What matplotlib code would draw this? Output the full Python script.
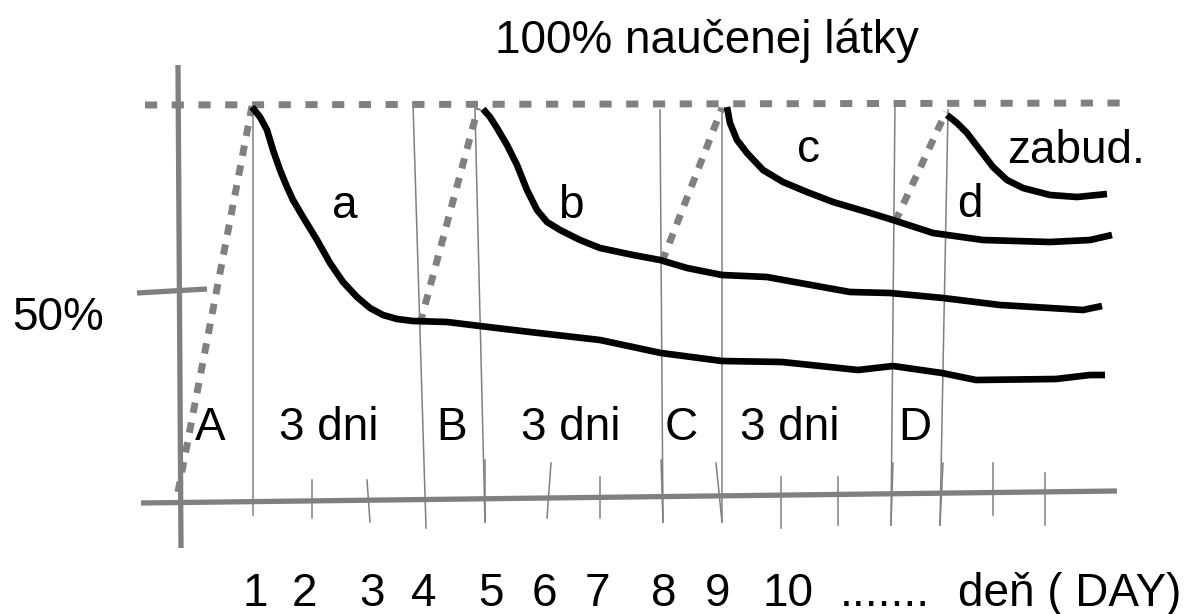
import matplotlib.pyplot as plt

plt.rcParams['font.family'] = ['Liberation Sans', 'DejaVu Sans']

# drawing is laid out in picture units (x to the right, y downwards)
W, H = 1193, 614
GRAY = '#808080'

# forgetting curves a, b, c, d
curve_a_x = [252, 260, 267, 273, 280, 287, 293, 303, 317, 330, 343, 357, 370, 383, 397, 413, 447,
             480, 530, 600, 661, 722, 782, 858, 893, 942, 976, 1056, 1090, 1105]
curve_a_y = [107, 117, 130, 150, 170, 187, 200, 217, 240, 263, 282, 297, 308, 315, 319, 321, 322,
             326, 332, 340, 353, 361, 362, 370, 366, 373, 380, 379, 375, 375]
curve_b_x = [483, 490, 497, 507, 517, 527, 537, 547, 560, 580, 600, 633, 660, 687, 722, 767, 800,
             850, 890, 943, 1000, 1083, 1102]
curve_b_y = [109, 117, 128, 145, 165, 190, 210, 222, 230, 240, 248, 255, 260, 268, 275, 277, 283,
             292, 293, 298, 305, 310, 306]
curve_c_x = [727, 730, 737, 747, 763, 783, 807, 833, 867, 893, 933, 983, 1050, 1090, 1112]
curve_c_y = [107, 123, 140, 153, 170, 182, 192, 202, 212, 220, 233, 240, 242, 240, 235]
curve_d_x = [947, 957, 967, 980, 993, 1007, 1023, 1050, 1077, 1107]
curve_d_y = [115, 123, 133, 150, 167, 180, 188, 195, 197, 194]

# learning ramps (dashed): start and end points
ramp_x = [(178, 252), (420, 478), (662, 722), (895, 946)]
ramp_y = [(492, 106), (324, 108), (262, 108), (222, 112)]

# thin vertical lines at repetition days
vline_x = [(253, 253), (413, 426), (475, 485), (660, 663), (722, 722), (895, 891), (948, 940)]
vline_y = [(108, 515), (103, 528), (110, 522), (110, 522), (108, 522), (103, 525), (110, 525)]

# short day ticks on the x axis
tick_x = [(312, 312), (367, 370), (485, 485), (551, 547), (600, 600), (661, 663), (716, 722),
          (781, 781), (838, 838), (893, 891), (943, 940), (993, 993), (1045, 1045)]
tick_y = [(480, 518), (480, 522), (460, 522), (463, 518), (477, 518), (460, 522), (463, 522),
          (477, 528), (477, 525), (463, 525), (463, 525), (463, 515), (473, 525)]

# labels
day_labels = ['1', '2', '3', '4', '5', '6', '7', '8', '9', '10', '.......', 'deň ( DAY)']
day_label_x = [242, 292, 359, 411, 478, 532, 585, 651, 705, 762, 840, 958]
phase_labels = ['A', '3 dni', 'B', '3 dni', 'C', '3 dni', 'D']
phase_label_x = [195, 279, 436, 521, 665, 740, 898]
curve_labels = ['a', 'b', 'c', 'd', 'zabud.']
curve_label_x = [332, 558, 797, 957, 1007]
curve_label_y = [218, 218, 162, 217, 163]

fig = plt.figure(figsize=(W / 100, H / 100), dpi=100)
ax = fig.add_axes([0, 0, 1, 1])
ax.set_xlim(0, W)
ax.set_ylim(H, 0)
ax.axis('off')

# axes of the sketch
ax.plot([178, 181], [65, 548], color=GRAY, lw=3.8, solid_capstyle='butt')
ax.plot([141, 1117], [503, 491], color=GRAY, lw=3.8, solid_capstyle='butt')
ax.plot([137, 207], [293, 289], color=GRAY, lw=3.8, solid_capstyle='butt')

# 100% line
ax.plot([145, 1127], [105, 103], color=GRAY, lw=5, dashes=(1.75, 2.1), dash_capstyle='butt')

for xs, ys in zip(vline_x, vline_y):
    ax.plot(xs, ys, color=GRAY, lw=1.1)
for xs, ys in zip(tick_x, tick_y):
    ax.plot(xs, ys, color=GRAY, lw=1.1)
for xs, ys in zip(ramp_x, ramp_y):
    ax.plot(xs, ys, color=GRAY, lw=5, dashes=(1.5, 1.4), dash_capstyle='butt')

for xs, ys in [(curve_a_x, curve_a_y), (curve_b_x, curve_b_y),
               (curve_c_x, curve_c_y), (curve_d_x, curve_d_y)]:
    ax.plot(xs, ys, color='black', lw=4.8, solid_joinstyle='round', solid_capstyle='butt')

fs = 33
ax.text(495, 53, '100% naučenej látky', fontsize=fs, va='baseline', ha='left')
ax.text(12, 330, '50%', fontsize=fs, va='baseline', ha='left')
for lab, x in zip(phase_labels, phase_label_x):
    ax.text(x, 440, lab, fontsize=fs, va='baseline', ha='left')
for lab, x, y in zip(curve_labels, curve_label_x, curve_label_y):
    ax.text(x, y, lab, fontsize=fs, va='baseline', ha='left')
for lab, x in zip(day_labels, day_label_x):
    ax.text(x, 606, lab, fontsize=fs, va='baseline', ha='left')

fig.savefig('out.png', dpi=100)
